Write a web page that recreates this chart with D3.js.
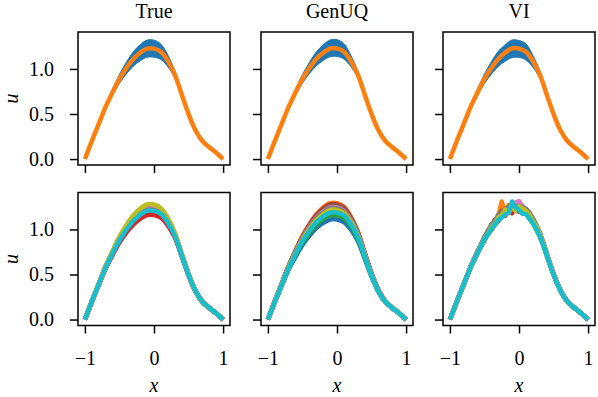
<!DOCTYPE html>
<html>
<head>
<meta charset="utf-8">
<script src="https://cdn.jsdelivr.net/npm/d3@7"></script>
<style>
	body { margin: 0; background: #fff; }
	text { font-family: "Liberation Serif", serif; font-size: 20px; fill: #000; }
</style>
</head>
<body>
<svg id="chart" width="598" height="397"></svg>
<script>

// ---- data ----
const titles = ["True", "GenUQ", "VI"];
const xTicks = [-1, 0, 1];
const yTicks = [0, 0.5, 1.0];

const xGrid = [-1.0, -0.9, -0.8, -0.7, -0.6, -0.5, -0.4, -0.3, -0.2, -0.1, 0.0, 0.1, 0.2, 0.3, 0.4, 0.5, 0.6, 0.7, 0.8, 0.9, 1.0];
const xFine = [-1.0, -0.95, -0.9, -0.85, -0.8, -0.75, -0.7, -0.65, -0.6, -0.55, -0.5, -0.45, -0.4, -0.35, -0.3, -0.25, -0.2, -0.15, -0.1, -0.05,
	0.0, 0.05, 0.1, 0.15, 0.2, 0.25, 0.3, 0.35, 0.4, 0.45, 0.5, 0.55, 0.6, 0.65, 0.7, 0.75, 0.8, 0.85, 0.9, 0.95, 1.0];

// top row: mean (orange) and spread of the samples (blue)
const trueMean  = [0, .200, .390, .580, .740, .890, 1.010, 1.110, 1.180, 1.225, 1.225, 1.190, 1.090, .940, .720, .500, .320, .200, .130, .070, 0];
const trueUpper = [0, .205, .400, .600, .775, .940, 1.075, 1.190, 1.270, 1.320, 1.320, 1.275, 1.155, .980, .740, .510, .325, .200, .130, .070, 0];
const trueLower = [0, .195, .380, .560, .705, .840, .945, 1.030, 1.090, 1.130, 1.130, 1.105, 1.025, .900, .700, .490, .315, .200, .130, .070, 0];

const genuqMean  = [0, .200, .390, .580, .740, .890, 1.010, 1.110, 1.180, 1.225, 1.228, 1.192, 1.090, .940, .720, .500, .320, .200, .130, .070, 0];
const genuqUpper = [0, .205, .400, .600, .774, .938, 1.072, 1.188, 1.268, 1.322, 1.325, 1.280, 1.152, .978, .740, .510, .325, .200, .130, .070, 0];
const genuqLower = [0, .195, .380, .560, .706, .842, .948, 1.034, 1.094, 1.135, 1.138, 1.110, 1.028, .902, .700, .490, .315, .200, .130, .070, 0];

const viMean  = [0, .200, .390, .580, .740, .890, 1.010, 1.110, 1.182, 1.228, 1.226, 1.190, 1.088, .940, .720, .500, .320, .200, .130, .070, 0];
const viUpper = [0, .205, .400, .602, .778, .944, 1.080, 1.195, 1.268, 1.322, 1.316, 1.280, 1.150, .985, .742, .512, .326, .201, .131, .071, 0];
const viLower = [0, .195, .380, .558, .703, .838, .942, 1.028, 1.085, 1.125, 1.128, 1.100, 1.020, .897, .698, .489, .314, .199, .129, .069, 0];

// bottom row: individual samples, tab10 order
const trueSamples = [
	[0, .202, .393, .586, .751, .905, 1.030, 1.134, 1.207, 1.254, 1.254, 1.216, 1.110, .952, .726, .503, .322, .200, .130, .070, 0], // blue
	[0, .202, .395, .589, .756, .913, 1.039, 1.146, 1.221, 1.268, 1.268, 1.228, 1.119, .958, .729, .505, .322, .200, .130, .070, 0], // orange
	[0, .198, .387, .573, .728, .873, .987, 1.082, 1.149, 1.192, 1.192, 1.160, 1.067, .926, .710, .490, .312, .193, .126, .068, 0],  // green
	[0, .197, .383, .566, .716, .855, .965, 1.054, 1.117, 1.159, 1.159, 1.131, 1.045, .912, .706, .493, .317, .200, .130, .070, 0],  // red
	[0, .201, .392, .583, .745, .898, 1.020, 1.122, 1.194, 1.239, 1.239, 1.203, 1.100, .946, .723, .502, .321, .200, .130, .070, 0], // purple
	[0, .200, .391, .581, .742, .893, 1.013, 1.114, 1.185, 1.230, 1.230, 1.194, 1.093, .942, .721, .501, .320, .200, .130, .070, 0], // brown
	[0, .202, .394, .587, .752, .908, 1.033, 1.138, 1.212, 1.258, 1.258, 1.220, 1.113, .954, .727, .504, .322, .200, .130, .070, 0], // pink
	[0, .200, .389, .578, .737, .885, 1.004, 1.102, 1.171, 1.216, 1.216, 1.182, 1.084, .936, .718, .499, .320, .200, .130, .070, 0], // gray
	[0, .203, .396, .591, .759, .918, 1.046, 1.154, 1.230, 1.277, 1.277, 1.237, 1.126, .962, .731, .506, .323, .200, .130, .070, 0], // olive
	[0, .199, .388, .576, .733, .880, .997, 1.094, 1.162, 1.206, 1.206, 1.173, 1.077, .932, .716, .498, .319, .200, .130, .070, 0]   // cyan
];

const genuqSamples = [
	[0, .194, .376, .554, .696, .828, .930, 1.014, 1.072, 1.111, 1.111, 1.082, 1.000, .874, .678, .476, .308, .194, .126, .069, 0],
	[0, .204, .398, .595, .766, .926, 1.057, 1.166, 1.243, 1.292, 1.292, 1.253, 1.143, .979, .745, .514, .327, .204, .132, .071, 0],
	[0, .197, .382, .565, .714, .854, .963, 1.054, 1.117, 1.159, 1.159, 1.127, 1.038, .902, .696, .486, .313, .197, .128, .069, 0],
	[0, .203, .397, .592, .760, .919, 1.047, 1.154, 1.230, 1.277, 1.277, 1.240, 1.131, .970, .739, .511, .326, .203, .132, .071, 0],
	[0, .202, .394, .587, .751, .906, 1.030, 1.134, 1.207, 1.254, 1.254, 1.217, 1.113, .957, .731, .506, .323, .202, .131, .070, 0],
	[0, .202, .395, .590, .757, .913, 1.040, 1.146, 1.221, 1.268, 1.268, 1.231, 1.124, .965, .736, .509, .325, .202, .131, .070, 0],
	[0, .201, .392, .584, .747, .900, 1.023, 1.126, 1.198, 1.244, 1.244, 1.208, 1.105, .951, .727, .504, .322, .201, .131, .070, 0],
	[0, .201, .391, .582, .744, .895, 1.017, 1.118, 1.189, 1.235, 1.235, 1.199, 1.098, .946, .724, .502, .321, .201, .130, .070, 0],
	[0, .200, .389, .578, .736, .885, 1.003, 1.102, 1.171, 1.216, 1.216, 1.181, 1.083, .935, .717, .498, .319, .200, .130, .070, 0],
	[0, .198, .385, .571, .725, .869, .983, 1.078, 1.144, 1.187, 1.187, 1.154, 1.060, .918, .706, .492, .316, .198, .129, .070, 0]
];

const viSamples = [
	[0, .100, .201, .297, .392, .488, .583, .668, .748, .822, .900, .965, 1.020, 1.085, 1.120, 1.175, 1.200, 1.240, 1.255, 1.270, 1.250, 1.240, 1.200, 1.170, 1.100, 1.035, .950, .845, .725, .610, .502, .406, .321, .254, .201, .162, .130, .100, .070, .036, 0],
	[0, .100, .200, .296, .391, .487, .582, .666, .746, .826, .903, .958, 1.040, 1.070, 1.150, 1.310, 1.190, 1.270, 1.230, 1.260, 1.240, 1.225, 1.215, 1.160, 1.105, 1.030, .955, .840, .730, .612, .503, .407, .322, .254, .200, .162, .130, .100, .070, .036, 0],
	[0, .099, .199, .295, .389, .485, .578, .660, .735, .810, .880, .945, .995, 1.050, 1.095, 1.140, 1.175, 1.195, 1.240, 1.215, 1.230, 1.195, 1.185, 1.120, 1.070, 1.000, .925, .825, .712, .600, .496, .402, .318, .252, .199, .161, .129, .099, .069, .036, 0],
	[0, .100, .200, .297, .391, .487, .581, .664, .741, .818, .885, .960, 1.005, 1.070, 1.100, 1.160, 1.150, 1.215, 1.180, 1.235, 1.195, 1.205, 1.175, 1.150, 1.085, 1.025, .935, .838, .722, .608, .501, .405, .320, .253, .200, .162, .130, .100, .070, .036, 0],
	[0, .101, .202, .298, .393, .490, .585, .670, .752, .830, .905, .970, 1.030, 1.080, 1.135, 1.165, 1.215, 1.230, 1.265, 1.250, 1.280, 1.245, 1.225, 1.160, 1.125, 1.040, .958, .850, .733, .615, .505, .408, .322, .254, .201, .162, .130, .100, .070, .036, 0],
	[0, .101, .201, .298, .393, .489, .586, .671, .750, .828, .908, .990, 1.025, 1.110, 1.135, 1.205, 1.215, 1.250, 1.280, 1.265, 1.270, 1.255, 1.225, 1.190, 1.115, 1.045, .960, .852, .735, .617, .506, .408, .323, .255, .201, .162, .130, .100, .070, .036, 0],
	[0, .100, .200, .297, .392, .488, .583, .667, .745, .825, .896, .962, 1.015, 1.075, 1.125, 1.170, 1.205, 1.225, 1.260, 1.300, 1.315, 1.260, 1.220, 1.165, 1.100, 1.030, .945, .842, .727, .611, .502, .406, .321, .254, .200, .162, .130, .100, .070, .036, 0],
	[0, .100, .201, .298, .394, .490, .586, .672, .755, .833, .920, .975, 1.060, 1.085, 1.165, 1.180, 1.225, 1.240, 1.270, 1.255, 1.260, 1.250, 1.230, 1.180, 1.120, 1.050, .965, .855, .738, .618, .506, .408, .322, .254, .201, .162, .130, .100, .070, .036, 0],
	[0, .100, .200, .296, .391, .487, .582, .665, .743, .820, .895, .955, 1.025, 1.065, 1.130, 1.155, 1.220, 1.185, 1.250, 1.205, 1.255, 1.230, 1.205, 1.165, 1.095, 1.035, .950, .845, .728, .612, .503, .406, .321, .253, .200, .162, .130, .100, .070, .036, 0],
	[0, .100, .200, .296, .390, .486, .580, .662, .740, .815, .888, .950, 1.005, 1.055, 1.105, 1.130, 1.165, 1.185, 1.310, 1.245, 1.215, 1.175, 1.170, 1.125, 1.070, 1.005, .930, .830, .716, .604, .498, .404, .320, .253, .200, .162, .130, .100, .070, .036, 0]
];

const topMeans = [trueMean, genuqMean, viMean];
const topUppers = [trueUpper, genuqUpper, viUpper];
const topLowers = [trueLower, genuqLower, viLower];
const bottomSamples = [trueSamples, genuqSamples, viSamples];

// ---- layout ----
const PANEL_LEFT = [78, 261, 443];
const PANEL_TOP = [32, 192.5];
const PANEL_W = 152;
const PANEL_H = 133;
const TICK_LEN = 8;
const BLUE = "#1f77b4";
const ORANGE = "#ff7f0e";

let svg = d3.select("svg#chart");

let x = d3.scaleLinear().domain([-1.1, 1.1]).range([0, PANEL_W]);
let y = d3.scaleLinear().domain([-0.066, 1.41]).range([PANEL_H, 0]);
let color = d3.scaleOrdinal(d3.schemeCategory10);

function lineFor(xs, curve) {
	return d3.line()
		.x((d, i) => x(xs[i]))
		.y(d => y(d))
		.curve(curve);
}

for (let row = 0; row < 2; row++) {
	for (let col = 0; col < 3; col++) {
		let g = svg.append("g")
			.attr("transform", `translate(${PANEL_LEFT[col]},${PANEL_TOP[row]})`)
			;

		if (row === 0) {
			// spread of samples as a blue band, mean in orange
			let band = d3.area()
				.x((d, i) => x(xGrid[i]))
				.y0((d, i) => y(topLowers[col][i]))
				.y1(d => y(d))
				.curve(d3.curveCatmullRom);
			g.append("path")
				.datum(topUppers[col])
				.attr("d", band)
				.attr("fill", BLUE)
				.attr("stroke", BLUE)
				.attr("stroke-width", 1)
				;
			g.append("path")
				.datum(topMeans[col])
				.attr("d", lineFor(xGrid, d3.curveCatmullRom))
				.attr("fill", "none")
				.attr("stroke", ORANGE)
				.attr("stroke-width", 4.5)
				;
		} else {
			let xs = col === 2 ? xFine : xGrid;
			let curve = col === 2 ? d3.curveLinear : d3.curveCatmullRom;
			g.selectAll("path.sample")
				.data(bottomSamples[col])
				.join("path")
				.attr("class", "sample")
				.attr("d", lineFor(xs, curve))
				.attr("fill", "none")
				.attr("stroke", (d, i) => color(i))
				.attr("stroke-width", 4.5)
				.attr("stroke-linejoin", "round")
				;
		}

		// axes
		let xAxis = d3.axisBottom(x)
			.tickValues(xTicks)
			.tickSize(TICK_LEN)
			.tickPadding(17)
			.tickFormat(row === 1 ? d3.format("d") : () => "");
		let gx = g.append("g")
			.attr("transform", `translate(0,${PANEL_H})`)
			.call(xAxis)
			;

		let yAxis = d3.axisLeft(y)
			.tickValues(yTicks)
			.tickSize(TICK_LEN)
			.tickPadding(16)
			.tickFormat(col === 0 ? d3.format(".1f") : () => "");
		let gy = g.append("g")
			.call(yAxis)
			;

		[gx, gy].forEach(a => {
			a.select(".domain").remove();
			a.attr("font-family", null).attr("font-size", null);
			a.selectAll(".tick line").attr("stroke", "#000").attr("stroke-width", 1.5);
		});

		// frame
		g.append("rect")
			.attr("x", 0)
			.attr("y", 0)
			.attr("width", PANEL_W)
			.attr("height", PANEL_H)
			.attr("fill", "none")
			.attr("stroke", "#000")
			.attr("stroke-width", 1.5)
			;

		if (row === 0) {
			svg.append("text")
				.text(titles[col])
				.attr("x", PANEL_LEFT[col] + PANEL_W / 2)
				.attr("y", 18)
				.attr("text-anchor", "middle")
				;
		} else {
			svg.append("text")
				.text("x")
				.attr("x", PANEL_LEFT[col] + PANEL_W / 2)
				.attr("y", 392)
				.attr("text-anchor", "middle")
				.style("font-style", "italic")
				;
		}

		if (col === 0) {
			svg.append("text")
				.text("u")
				.attr("transform", `translate(18,${PANEL_TOP[row] + PANEL_H / 2}) rotate(-90)`)
				.attr("text-anchor", "middle")
				.style("font-style", "italic")
				;
		}
	}
}

</script>
</body>
</html>
